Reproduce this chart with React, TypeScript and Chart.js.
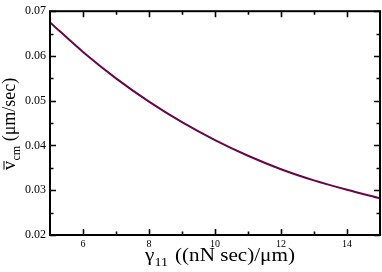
import React, { useEffect, useRef } from "react";
import { Chart, registerables } from "chart.js";

Chart.register(...registerables);

const gammaValues = [5, 6, 7, 8, 9, 10, 11, 12, 13, 14, 15];
const velocityValues = [0.0675, 0.0609, 0.055, 0.0498, 0.0452, 0.0412, 0.0377, 0.0347, 0.0322, 0.0301, 0.0282];
const xMajorTicks = [6, 8, 10, 12, 14];
const xMinorTicks = [7, 9, 11, 13];
const yMajorTicks = [0.02, 0.03, 0.04, 0.05, 0.06, 0.07];
const yMinorTicks = [0.025, 0.035, 0.045, 0.055, 0.065];

const SERIF = '"Liberation Serif", "Times New Roman", serif';

const framePlugin = {
  id: "frameAndTitles",
  afterDraw(chart: any) {
    const ctx = chart.ctx;
    const { left, right, top, bottom } = chart.chartArea;
    const xs = chart.scales.x;
    const ys = chart.scales.y;
    ctx.save();
    ctx.strokeStyle = "#000";
    ctx.lineWidth = 2;
    ctx.strokeRect(left, top, right - left, bottom - top);
    ctx.lineWidth = 1.6;
    const major = 6;
    const minor = 3.5;
    ctx.beginPath();
    const vt = (v: number, len: number) => {
      const px = Math.round(xs.getPixelForValue(v)) + 0.5;
      ctx.moveTo(px, bottom);
      ctx.lineTo(px, bottom - len);
      ctx.moveTo(px, top);
      ctx.lineTo(px, top + len);
    };
    const ht = (v: number, len: number) => {
      const py = Math.round(ys.getPixelForValue(v)) + 0.5;
      ctx.moveTo(left, py);
      ctx.lineTo(left + len, py);
      ctx.moveTo(right, py);
      ctx.lineTo(right - len, py);
    };
    xMajorTicks.forEach((v) => vt(v, major));
    xMinorTicks.forEach((v) => vt(v, minor));
    yMajorTicks.forEach((v) => ht(v, major));
    yMinorTicks.forEach((v) => ht(v, minor));
    ctx.stroke();

    // X title (slightly wide lettering, as in the reference)
    ctx.fillStyle = "#000";
    ctx.textBaseline = "alphabetic";
    ctx.textAlign = "left";
    const mainFont = "18px " + SERIF;
    const subFont = "12px " + SERIF;
    const restText = "((nN sec)/μm)";
    ctx.font = mainFont;
    const restW0 = ctx.measureText(restText).width;
    const sx = 120 / restW0;
    const gW = ctx.measureText("γ").width * sx;
    const restW = restW0 * sx;
    ctx.font = subFont;
    const subW = ctx.measureText("11").width * sx;
    const gap = 7;
    const total = gW + subW + gap + restW;
    const x0 = (left + right) / 2 + 5 - total / 2;
    const base = 261;
    const drawScaled = (t: string, x: number, y: number, font: string) => {
      ctx.save();
      ctx.font = font;
      ctx.translate(x, y);
      ctx.scale(sx, 1);
      ctx.fillText(t, 0, 0);
      ctx.restore();
    };
    drawScaled("γ", x0, base, mainFont);
    drawScaled("11", x0 + gW, base + 5, subFont);
    drawScaled(restText, x0 + gW + subW + gap, base, mainFont);

    // Y title
    ctx.save();
    ctx.translate(15, 170);
    ctx.rotate(-Math.PI / 2);
    ctx.font = mainFont;
    ctx.fillText("v", 0, 0);
    const vW = ctx.measureText("v").width;
    ctx.lineWidth = 1;
    ctx.beginPath();
    ctx.moveTo(0.5, -11);
    ctx.lineTo(vW, -11);
    ctx.stroke();
    ctx.font = subFont;
    ctx.fillText("cm", vW + 0.5, 5);
    const cmW = ctx.measureText("cm").width;
    ctx.font = mainFont;
    ctx.fillText("(μm/sec)", vW + cmW + 5, 0);
    ctx.restore();

    ctx.restore();
  },
};

export default function App() {
  const ref = useRef<HTMLCanvasElement>(null);
  useEffect(() => {
    document.body.style.margin = "0";
    const canvas = ref.current;
    if (!canvas) return;
    const chart = new Chart(canvas, {
      type: "line",
      data: {
        labels: gammaValues,
        datasets: [
          {
            data: gammaValues.map((g, i) => ({ x: g, y: velocityValues[i] })),
            borderColor: "rgb(103,7,72)",
            borderWidth: 2,
            pointRadius: 0,
            fill: false,
            cubicInterpolationMode: "monotone",
          },
        ],
      },
      options: {
        animation: false,
        responsive: false,
        devicePixelRatio: 1,
        layout: { padding: { left: 0, top: 5, right: 2, bottom: 0 } },
        plugins: { legend: { display: false }, tooltip: { enabled: false } },
        scales: {
          x: {
            type: "linear",
            min: 5,
            max: 15,
            grid: { display: false, drawTicks: false },
            border: { display: false },
            afterBuildTicks: (s: any) => {
              s.ticks = xMajorTicks.map((v) => ({ value: v }));
            },
            afterFit: (s: any) => {
              s.height = 37;
            },
            ticks: {
              color: "#000",
              padding: 3,
              maxRotation: 0,
              font: { family: SERIF, size: 10 },
              callback: (v: any) => String(v),
            },
          },
          y: {
            type: "linear",
            min: 0.02,
            max: 0.07,
            grid: { display: false, drawTicks: false },
            border: { display: false },
            afterBuildTicks: (s: any) => {
              s.ticks = yMajorTicks.map((v) => ({ value: v }));
            },
            afterFit: (s: any) => {
              s.width = 50;
            },
            ticks: {
              color: "#000",
              padding: 4,
              font: { family: SERIF, size: 12 },
              callback: (v: any) => Number(v).toFixed(2),
            },
          },
        },
      },
      plugins: [framePlugin],
    } as any);
    return () => chart.destroy();
  }, []);
  return <canvas ref={ref} width={382} height={272} style={{ display: "block" }} />;
}
